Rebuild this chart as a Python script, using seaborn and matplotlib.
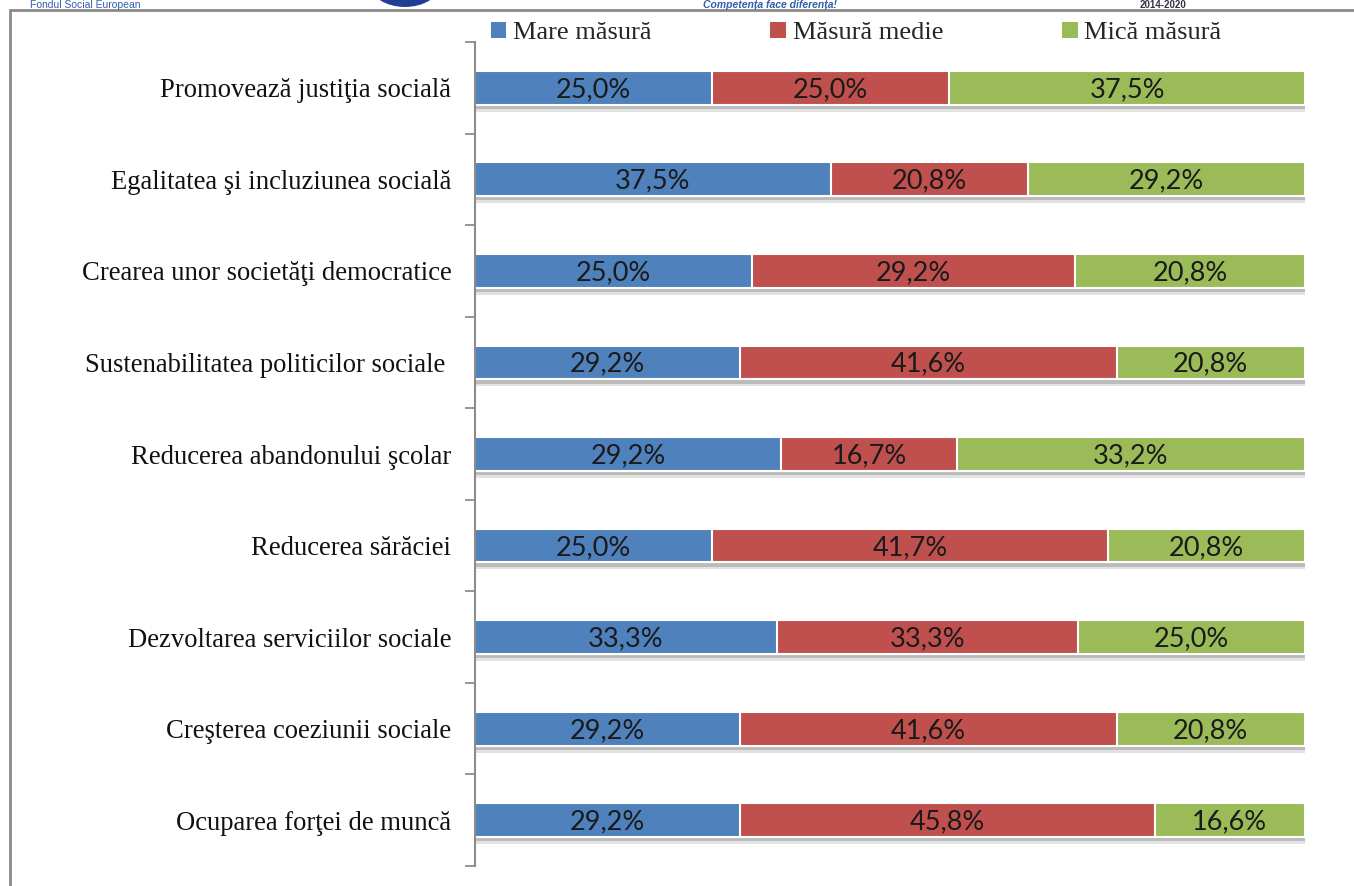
import matplotlib
matplotlib.use("Agg")
import matplotlib.pyplot as plt
import matplotlib.patheffects as pe
from matplotlib.lines import Line2D
from matplotlib.patches import Ellipse, Patch
import pandas as pd
import seaborn as sns

categories = [
    "Promovează justiţia socială",
    "Egalitatea şi incluziunea socială",
    "Crearea unor societăţi democratice",
    "Sustenabilitatea politicilor sociale ",
    "Reducerea abandonului şcolar",
    "Reducerea sărăciei",
    "Dezvoltarea serviciilor sociale",
    "Creşterea coeziunii sociale",
    "Ocuparea forţei de muncă",
]
mare = [25.0, 37.5, 25.0, 29.2, 29.2, 25.0, 33.3, 29.2, 29.2]
medie = [25.0, 20.8, 29.2, 41.6, 16.7, 41.7, 33.3, 41.6, 45.8]
mica = [37.5, 29.2, 20.8, 20.8, 33.2, 20.8, 25.0, 20.8, 16.6]
series_names = ["Mare măsură", "Măsură medie", "Mică măsură"]
colors = ["#4F81BD", "#C0504D", "#9BBB59"]

sns.set_theme(style="white")
plt.rcParams["font.family"] = ["Liberation Serif", "DejaVu Serif"]

df = pd.DataFrame({"cat": categories, "mare": mare, "medie": medie, "mica": mica})
total = df["mare"] + df["medie"] + df["mica"]
# 100% stacked: normalise each row
df["c1"] = df["mare"] / total
df["c2"] = (df["mare"] + df["medie"]) / total
df["c3"] = 1.0

fig = plt.figure(figsize=(13.54, 8.86), dpi=100)
ax = fig.add_axes([475 / 1354, 1 - 866 / 886, (1305 - 475) / 1354, (866 - 42) / 886])

# layered bars: full row first (green), then cumulative red, then blue
for k, (col, color) in enumerate(zip(["c3", "c2", "c1"], colors[::-1])):
    n_before = len(ax.patches)
    sns.barplot(data=df, y="cat", x=col, orient="h", color=color, width=0.37,
                edgecolor="white", linewidth=1.5, saturation=1, ax=ax)
    if k == 0:
        # soft drop shadow under each full row
        for p in ax.patches[n_before:]:
            p.set_path_effects([
                pe.SimplePatchShadow(offset=(1, -5), shadow_rgbFace="0.55", alpha=0.25),
                pe.SimplePatchShadow(offset=(1, -3), shadow_rgbFace="0.45", alpha=0.35),
                pe.Normal(),
            ])

# value labels centered in each segment
starts = [0 * df["c1"], df["c1"], df["c2"]]
ends = [df["c1"], df["c2"], df["c3"]]
vals = [mare, medie, mica]
for s, e, v in zip(starts, ends, vals):
    for i in range(len(categories)):
        ax.text((s[i] + e[i]) / 2, i + 0.02, f"{v[i]:.1f}%".replace(".", ","),
                ha="center", va="center", fontsize=19.5, color="#1a1a1a",
                family=["Lato", "DejaVu Sans"])

ax.set_xlim(0, 1)
ax.set_ylim(len(categories) - 0.5, -0.5)
ax.set_xlabel("")
ax.set_ylabel("")
ax.set_xticks([])
ax.set_yticks(range(len(categories)))
ax.set_yticklabels(categories, fontsize=19.2)
ax.set_yticks([i - 0.5 for i in range(len(categories) + 1)], minor=True)
ax.tick_params(axis="y", which="major", length=0, pad=17, colors="#111111")
ax.tick_params(axis="y", which="minor", length=7, width=1.3, color="#8c8c8c", left=True)
for side in ["top", "right", "bottom"]:
    ax.spines[side].set_visible(False)
ax.spines["left"].set_color("#8c8c8c")
ax.spines["left"].set_linewidth(1.5)

handles = [Patch(facecolor=c, edgecolor="none") for c in colors]
fig.legend(handles, series_names, loc="center left", bbox_to_anchor=(480 / 1354, 1 - 33 / 886),
           ncol=3, frameon=False, fontsize=19, handlelength=0.6, handleheight=0.6,
           handletextpad=0.25, columnspacing=4.5, borderaxespad=0)

# page frame and header strip
fig.add_artist(Line2D([10 / 1354, 1], [1 - 10 / 886] * 2, color="#8a8a8a", lw=2))
fig.add_artist(Line2D([10 / 1354] * 2, [0, 1 - 10 / 886], color="#8a8a8a", lw=2))
fig.text(30 / 1354, 1 - 8.5 / 886, "Fondul Social European", color="#2f5fb0", fontsize=7.5,
         family="Liberation Sans", va="baseline")
fig.text(703 / 1354, 1 - 8.5 / 886, "Competența face diferența!", color="#2f5fb0", fontsize=7.5,
         family="Liberation Sans", weight="bold", style="italic", va="baseline")
fig.text(1140 / 1354, 1 - 8.5 / 886, "2014-2020", color="#333344", fontsize=7,
         family="Liberation Sans", weight="bold", va="baseline")
fig.add_artist(Ellipse((405 / 1354, 1 + 14 / 886), 70 / 1354, 44 / 886,
                       facecolor="#1f3f93", edgecolor="white", lw=1.5))

fig.savefig("out.png", dpi=100)
